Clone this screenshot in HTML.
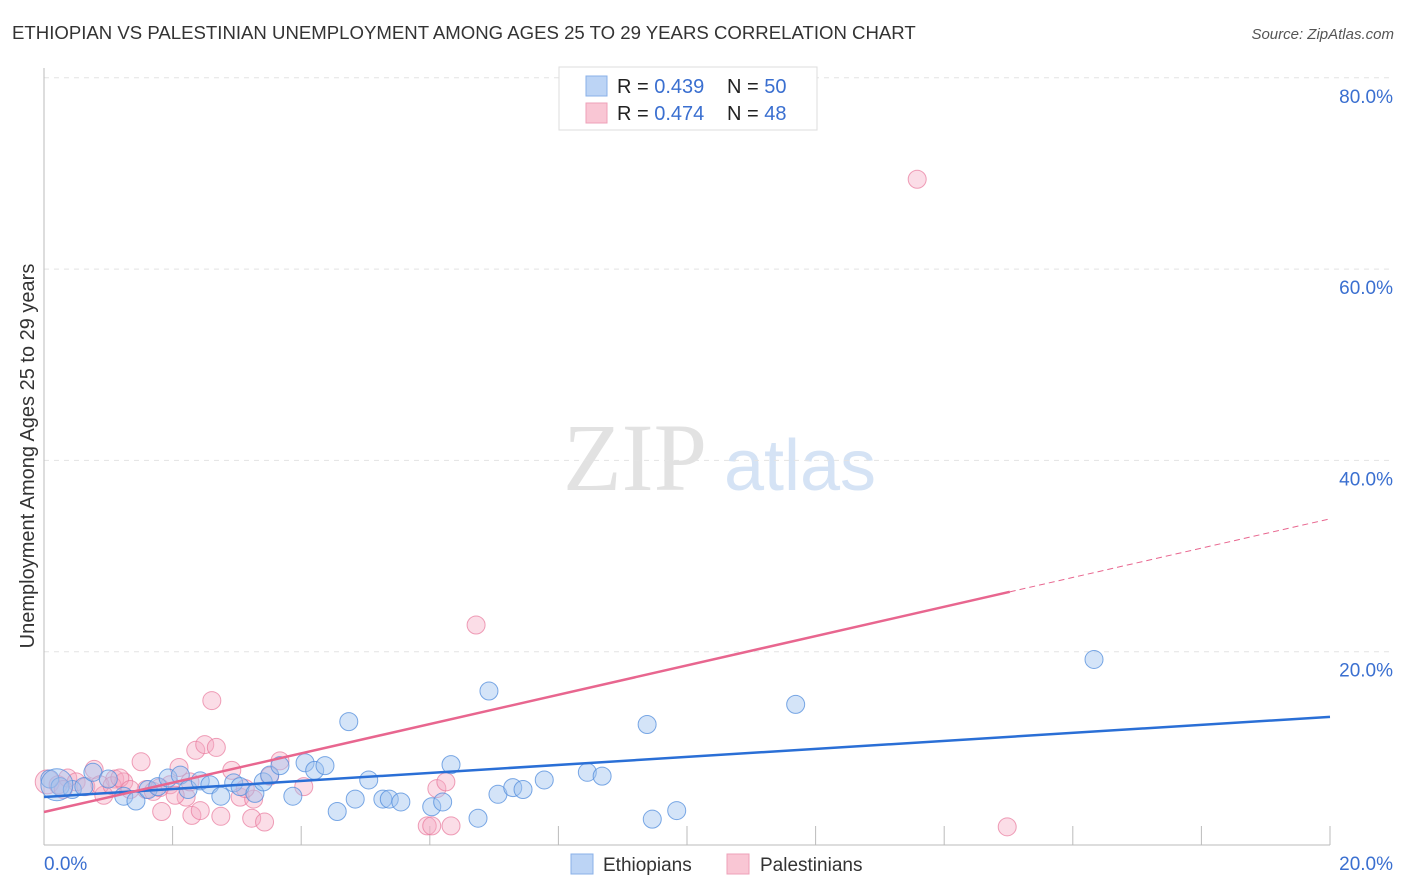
<!DOCTYPE html>
<html><head><meta charset="utf-8">
<style>
body{margin:0;background:#fff;font-family:"Liberation Sans",sans-serif;}
#wrap{position:relative;width:1406px;height:892px;overflow:hidden;}
svg{position:absolute;left:0;top:0;}
</style></head>
<body><div id="wrap">
<svg id="c" width="1406" height="892" xmlns="http://www.w3.org/2000/svg">
<text x="12" y="39" font-size="18.6" fill="#333">ETHIOPIAN VS PALESTINIAN UNEMPLOYMENT AMONG AGES 25 TO 29 YEARS CORRELATION CHART</text>
<text x="1394" y="39" font-size="15" fill="#555" font-style="italic" text-anchor="end">Source: ZipAtlas.com</text>
<text x="635" y="490" font-size="96" fill="#e2e2e2" font-family="Liberation Serif,serif" text-anchor="middle">ZIP</text>
<text x="800" y="490" font-size="72" fill="#d5e3f5" text-anchor="middle">atlas</text>
<text transform="translate(34,456) rotate(-90)" font-size="20" fill="#333" text-anchor="middle">Unemployment Among Ages 25 to 29 years</text>
<g id="grid"></g><g id="pts"></g><g id="lines"></g>
<g>
<rect x="559" y="67" width="258" height="63" fill="#fff" stroke="#ddd"/>
<rect x="586" y="76" width="21" height="20" fill="#bcd4f5" stroke="#8ab0e8"/>
<rect x="586" y="103" width="21" height="20" fill="#f9c6d4" stroke="#eea0b8"/>
<text x="617" y="93" font-size="20" fill="#222">R = <tspan fill="#3a6fd0">0.439</tspan><tspan x="727">N = </tspan><tspan fill="#3a6fd0">50</tspan></text>
<text x="617" y="120" font-size="20" fill="#222">R = <tspan fill="#3a6fd0">0.474</tspan><tspan x="727">N = </tspan><tspan fill="#3a6fd0">48</tspan></text>
</g>
<g>
<rect x="571" y="854" width="22" height="20" fill="#bcd4f5" stroke="#8ab0e8"/>
<text x="603" y="871" font-size="19" fill="#333">Ethiopians</text>
<rect x="727" y="854" width="22" height="20" fill="#f9c6d4" stroke="#eea0b8"/>
<text x="760" y="871" font-size="19" fill="#333">Palestinians</text>
</g>
</svg></div>
<script>
const xTicks=[0,20];
const yTicks=[20,40,60,80];
const ethX=[0.09,0.25,0.44,0.62,0.76,1.0,1.24,1.43,1.62,1.77,1.93,2.12,2.24,2.43,2.58,2.75,2.95,3.05,3.28,3.41,3.51,3.67,3.87,4.06,4.21,4.37,4.56,4.74,4.84,5.05,5.27,5.37,5.55,6.03,6.2,6.33,6.75,6.92,7.06,7.29,7.45,7.78,8.45,8.68,9.38,9.46,9.84,11.69,16.33,0.2];
const ethY=[6.9,6.1,5.8,6.1,7.6,6.9,5.1,4.6,5.8,6.1,7.0,7.3,5.8,6.7,6.3,5.1,6.5,6.1,5.4,6.6,7.3,8.3,5.1,8.6,7.8,8.3,3.5,12.9,4.8,6.8,4.8,4.8,4.5,4.0,4.5,8.4,2.8,16.1,5.3,6.0,5.8,6.8,7.6,7.2,12.6,2.7,3.6,14.7,19.4,6.3];
const palX=[0.05,0.22,0.37,0.5,0.65,0.78,0.93,1.1,1.24,1.51,1.59,1.7,1.83,1.96,2.1,2.21,2.3,2.36,2.43,2.5,2.61,2.68,2.75,2.92,3.05,3.23,3.26,3.43,3.67,4.04,5.96,6.03,6.11,6.25,6.33,6.72,13.58,14.98,0.87,1.06,1.18,1.34,1.8,2.04,2.27,3.13,3.51,0.3];
const palY=[6.6,6.3,7.0,6.6,6.1,7.9,5.2,6.9,6.6,8.7,5.8,5.6,3.5,6.3,8.1,5.0,3.1,9.9,3.6,10.5,15.1,10.2,3.0,7.8,5.0,2.8,4.8,2.4,8.8,6.1,2.0,2.0,5.9,6.6,2.0,23.0,69.6,1.9,6.3,6.2,7.0,5.8,6.0,5.2,6.6,5.9,7.2,5.8];
const blueLine=[5.02,13.4];
const pinkLine=[3.45,34.1];
const pinkSolidEnd=15.02;
const X=v=>44+v/20*1286, Y=v=>845-v*9.565;
const NS='http://www.w3.org/2000/svg';
function mk(p,t,a){const e=document.createElementNS(NS,t);for(const k in a)e.setAttribute(k,a[k]);p.appendChild(e);return e;}
const grid=document.getElementById('grid');
yTicks.forEach(v=>{
 const l=mk(grid,'line',{x1:44,x2:1394,y1:Y(v)-2,y2:Y(v)-2,stroke:'#e3e3e3','stroke-dasharray':'5,5'});
 
 
 const t=mk(grid,'text',{x:1393,y:Y(v)+23,'font-size':19,fill:'#3a6fd0','text-anchor':'end'});t.textContent=v.toFixed(1)+'%';
 
 
});
mk(grid,'line',{x1:44,x2:44,y1:68,y2:845,stroke:'#bbb'});
mk(grid,'line',{x1:44,x2:1330,y1:845,y2:845,stroke:'#bbb'});
for(let i=1;i<=10;i++){const x=X(i*2);mk(grid,'line',{x1:x,x2:x,y1:826,y2:845,stroke:'#bbb'});}
xTicks.forEach((v,i)=>{const t=mk(grid,'text',{x:i?1393:44,y:870,'font-size':19,fill:'#3a6fd0','text-anchor':i?'end':'start'});t.textContent=v.toFixed(1)+'%';
 
 });
const pts=document.getElementById('pts');
palX.forEach((v,i)=>{const c=mk(pts,'circle',{cx:X(v),cy:Y(palY[i]),r:i==0?12:9,fill:'rgba(246,170,195,0.4)',stroke:'rgba(232,120,155,0.7)','stroke-width':1});
 
 });
ethX.forEach((v,i)=>{const c=mk(pts,'circle',{cx:X(v),cy:Y(ethY[i]),r:i==49?16:9,fill:'rgba(160,195,240,0.45)',stroke:'rgba(80,140,220,0.75)','stroke-width':1});
 
 });
const lines=document.getElementById('lines');
const b=mk(lines,'line',{x1:X(0),y1:Y(blueLine[0]),x2:X(20),y2:Y(blueLine[1]),stroke:'#2a6fd6','stroke-width':2.5});


const pv=x=>pinkLine[0]+(pinkLine[1]-pinkLine[0])*x/20;
const p=mk(lines,'line',{x1:X(0),y1:Y(pv(0)),x2:X(pinkSolidEnd),y2:Y(pv(pinkSolidEnd)),stroke:'#e8668f','stroke-width':2.5});


const pd=mk(lines,'line',{x1:X(pinkSolidEnd),y1:Y(pv(pinkSolidEnd)),x2:X(20),y2:Y(pv(20)),stroke:'#e8668f','stroke-width':1,'stroke-dasharray':'6,4'});


</script></body></html>
